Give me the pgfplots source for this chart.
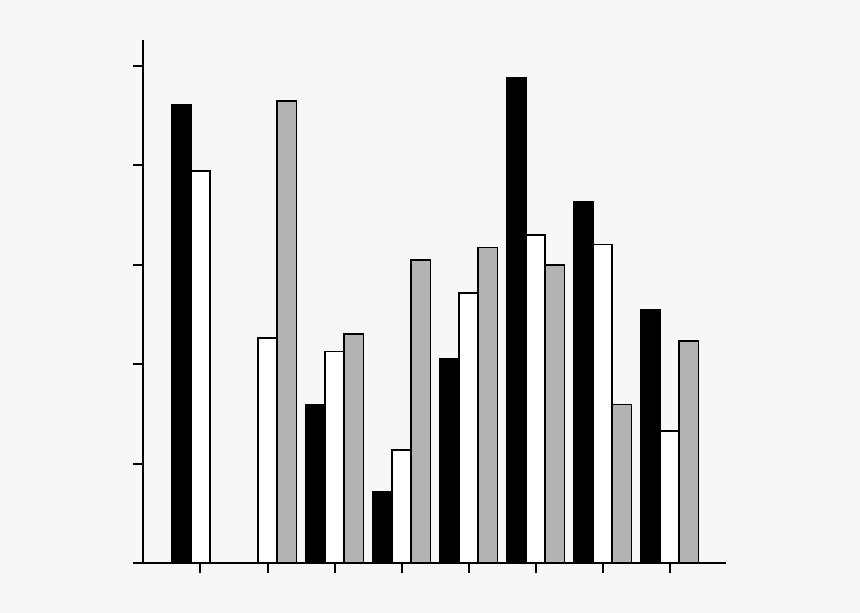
\documentclass[border=0pt]{standalone}
\usepackage{pgfplots}
\pgfplotsset{compat=1.18}
\definecolor{bg}{RGB}{247,247,247}
\definecolor{barGray}{RGB}{179,179,179}

\begin{document}
\begin{tikzpicture}
    \useasboundingbox[fill=bg] (0,0) rectangle (430pt,306.5pt);
    \begin{axis}[
        at={(71.5pt,25pt)},
        anchor=south west,
        scale only axis,
        width=291.5pt,
        height=261.5pt,
        xmin=0.142, xmax=8.843,
        ymin=0, ymax=5.262,
        xtick={1,...,8},
        ytick={0,...,5},
        xticklabels={},
        yticklabels={},
        axis lines=left,
        axis line style={-, line width=1pt},
        tick align=outside,
        major tick length=5pt,
        tick style={line width=1pt, black},
        ybar=0pt,
        bar width=0.288,
        clip=false,
    ]

    % series 1 (black)
    \addplot[fill=black, draw=black, line width=0.8pt]
        coordinates {
        (1,4.608) (2,0) (3,1.587) (4,0.721)
        (5,2.052) (6,4.886) (7,3.635) (8,2.552)
        };

    % series 2 (white)
    \addplot[fill=white, draw=black, line width=0.8pt]
        coordinates {
        (1,3.944) (2,2.264) (3,2.126) (4,1.134)
        (5,2.716) (6,3.300) (7,3.206) (8,1.325)
        };

    % series 3 (gray)
    \addplot[fill=barGray, draw=black, line width=0.8pt]
        coordinates {
        (1,0) (2,4.648) (3,2.301) (4,3.048)
        (5,3.176) (6,3.001) (7,1.593) (8,2.236)
        };

    \end{axis}
\end{tikzpicture}
\end{document}
